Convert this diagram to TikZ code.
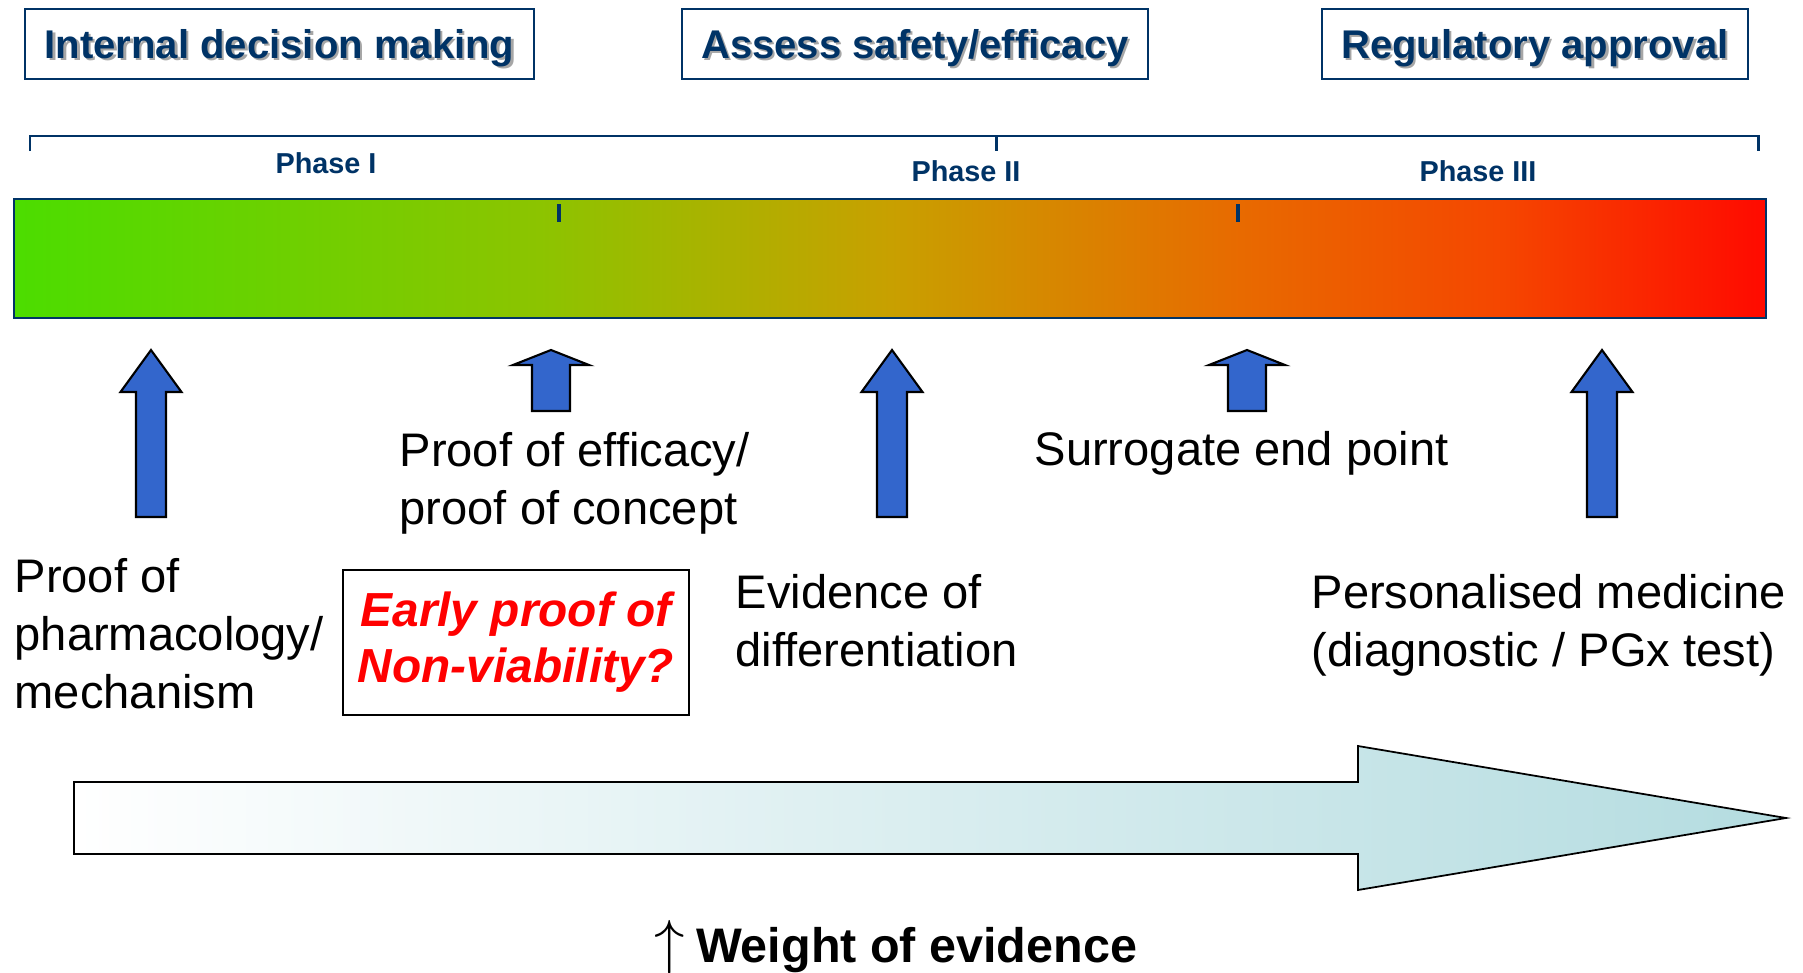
\documentclass[tikz,border=0pt]{standalone}
\usepackage{fontspec}
\setmainfont{Liberation Sans}

\definecolor{navy}{RGB}{0,51,102}
\definecolor{arrowblue}{RGB}{51,102,204}
\definecolor{evteal}{RGB}{180,220,224}
\definecolor{barA}{RGB}{76,221,0}
\definecolor{barB}{RGB}{140,196,0}
\definecolor{barC}{RGB}{200,160,0}
\definecolor{barD}{RGB}{232,106,0}
\definecolor{barE}{RGB}{245,70,0}
\definecolor{barF}{RGB}{255,10,0}

\pgfdeclarehorizontalshading{phasebar}{100bp}{color(0bp)=(barA); color(25bp)=(barA); color(40bp)=(barB); color(50bp)=(barC); color(60bp)=(barD); color(67.5bp)=(barE); color(75bp)=(barF); color(100bp)=(barF)}

\newcommand{\shadowed}[1]{\makebox[0pt][l]{\hspace{0.7pt}\raisebox{-0.7pt}{\textcolor{black!35}{#1}}}#1}

\begin{document}
\begin{tikzpicture}
		\tikzset{titlebox/.style = {draw=navy, line width=0.7pt, text=navy, font=\fontsize{11.4}{13}\selectfont\bfseries, minimum height=0.70cm, text height=0.29cm, text depth=0cm, inner sep=0pt}}
		\tikzset{phase/.style = {text=navy, font=\fontsize{8.2}{10}\selectfont\bfseries, anchor=base, inner sep=0pt}}
		\tikzset{bracket/.style = {draw=navy, line width=0.6pt}}
		\tikzset{bluearrow/.style = {draw=black, fill=arrowblue, line width=0.6pt, line join=miter}}
		\tikzset{bodytext/.style = {font=\fontsize{13.4}{16.4}\selectfont, align=left, anchor=base west, inner sep=0pt}}

		\useasboundingbox (0,0) rectangle (18.03,-9.72);

		\node[titlebox, minimum width=5.09cm] (T_1) at (2.795,-0.44) {\shadowed{Internal decision making}};
		\node[titlebox, minimum width=4.66cm] (T_2) at (9.15,-0.44) {\shadowed{Assess safety/efficacy}};
		\node[titlebox, minimum width=4.26cm] (T_3) at (15.35,-0.44) {\shadowed{Regulatory approval}};

		\coordinate (P_0) at (0.30,-1.36);
		\coordinate (P_1) at (9.965,-1.36);
		\coordinate (P_2) at (17.585,-1.36);
		\draw[bracket] ([yshift=-0.15cm]P_0) -- (P_0) -- (P_2) -- ([yshift=-0.15cm]P_2);
		\draw[bracket] (P_1) -- ([yshift=-0.15cm]P_1);

		\node[phase] (Ph_1) at (3.26,-1.735) {Phase I};
		\node[phase] (Ph_2) at (9.66,-1.815) {Phase II};
		\node[phase] (Ph_3) at (14.78,-1.815) {Phase III};

		\draw[draw=navy, line width=0.7pt, shade, shading=phasebar] (0.14,-1.99) rectangle (17.66,-3.18);
		\draw[navy, line width=1pt] (5.59,-2.04) -- (5.59,-2.22);
		\draw[navy, line width=1pt] (12.38,-2.04) -- (12.38,-2.22);



		\draw[bluearrow] (1.51,-5.17) ++(-0.15,0) -- ++(0,1.25) -- ++(-0.155,0) -- ++(0.305,0.42) -- ++(0.305,-0.42) -- ++(-0.155,0) -- ++(0,-1.25) -- cycle;
		\draw[bluearrow] (5.51,-4.11) ++(-0.19,0) -- ++(0,0.46) -- ++(-0.19,0) -- ++(0.38,0.15) -- ++(0.38,-0.15) -- ++(-0.19,0) -- ++(0,-0.46) -- cycle;
		\draw[bluearrow] (8.92,-5.17) ++(-0.15,0) -- ++(0,1.25) -- ++(-0.155,0) -- ++(0.305,0.42) -- ++(0.305,-0.42) -- ++(-0.155,0) -- ++(0,-1.25) -- cycle;
		\draw[bluearrow] (12.47,-4.11) ++(-0.19,0) -- ++(0,0.46) -- ++(-0.19,0) -- ++(0.38,0.15) -- ++(0.38,-0.15) -- ++(-0.19,0) -- ++(0,-0.46) -- cycle;
		\draw[bluearrow] (16.02,-5.17) ++(-0.15,0) -- ++(0,1.25) -- ++(-0.155,0) -- ++(0.305,0.42) -- ++(0.305,-0.42) -- ++(-0.155,0) -- ++(0,-1.25) -- cycle;

		\node[bodytext] (L_pharm) at (0.14,-7.08) {Proof of\\pharmacology/\\mechanism};
		\node[bodytext] (L_eff) at (3.99,-5.245) {Proof of efficacy/\\proof of concept};
		\node[bodytext] (L_diff) at (7.35,-6.665) {Evidence of\\differentiation};
		\node[bodytext] (L_surr) at (10.34,-4.65) {Surrogate end point};
		\node[bodytext] (L_pers) at (13.11,-6.665) {Personalised medicine\\(diagnostic / PGx test)};

		\node[draw=black, line width=0.6pt, minimum width=3.46cm, minimum height=1.45cm, inner sep=0pt, text=red, font=\fontsize{13.6}{15.9}\selectfont\bfseries\itshape, align=center] (NV) at (5.16,-6.425) {Early proof of\\Non-viability?};



		\draw[black, line width=0.5pt, left color=white, right color=evteal] (0.74,-7.82) -- (13.58,-7.82) -- (13.58,-7.46) -- (17.86,-8.18) -- (13.58,-8.90) -- (13.58,-8.54) -- (0.74,-8.54) -- cycle;

		\node[anchor=base west, inner sep=0pt, font=\fontsize{13.8}{16}\selectfont] (W) at (6.54,-9.62) {{\fontsize{17}{17}\selectfont$\uparrow$}\hspace{0.11cm}\textbf{Weight of evidence}};

	\end{tikzpicture}
\end{document}
